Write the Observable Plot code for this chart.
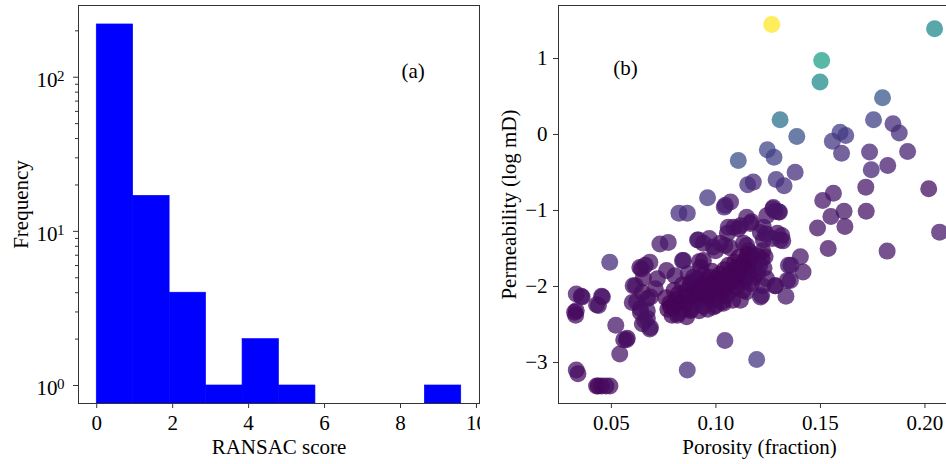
<!DOCTYPE html>
<html>
<head>
<meta charset="utf-8">
<script src="https://cdn.jsdelivr.net/npm/d3@7"></script>
<script src="https://cdn.jsdelivr.net/npm/@observablehq/plot@0.6"></script>
<style>
  html, body { margin: 0; padding: 0; background: white; }
  #wrap { position: relative; width: 946px; height: 464px; overflow: hidden; background: white; }
  #left, #right { position: absolute; top: 0; width: 480px; height: 464px; }
  #left { left: 0; }
  #right { left: 480px; }
  #wrap svg { max-width: none !important; width: 480px; height: 464px; display: block; }
  #wrap svg text { font-family: 'Liberation Serif', 'Times New Roman', serif !important; }
  #wrap svg g[aria-label$="tick label"],
  #wrap svg g[aria-label$="tick label"] text { font-size: 21px !important; fill: black; }
</style>
</head>
<body>
<div id="wrap"><div id="left"></div><div id="right"></div></div>
<script>
// ---- Panel (a): histogram of RANSAC scores ----
const binEdges = [0, 0.96, 1.92, 2.88, 3.84, 4.8, 5.76, 6.72, 7.68, 8.64, 9.6];
const binCounts = [220, 17, 4, 1, 2, 1, 0, 0, 0, 1];
const histXTicks = [0, 2, 4, 6, 8, 10];
const histYMajor = [1, 10, 100];
const histYExp = ["0", "1", "2"];
const histYMinor = [2,3,4,5,6,7,8,9,20,30,40,50,60,70,80,90,200];

// ---- Panel (b): porosity vs permeability, coloured by RANSAC score ----
const porosity = [
0.1267,0.2046,0.1506,0.1498,0.1797,0.1307,0.1387,0.1107,0.1246,0.1278,
0.1754,0.1847,0.1877,0.1594,0.1621,0.1557,0.1601,0.1735,0.1917,0.1743,
0.1822,0.1379,0.1288,0.1326,0.1152,0.1179,0.1717,0.2018,0.1562,0.1511,
0.0960,0.0823,0.0863,0.1040,0.1070,0.1272,0.1283,0.1304,0.1719,0.1613,
0.1550,0.1617,0.1486,0.2070,0.1537,0.1819,0.1315,0.1320,0.1404,0.1359,
0.1417,0.1356,0.1335,0.1283,0.1043,0.1195,0.0863,0.0332,0.0340,0.0429,
0.0437,0.0453,0.0474,0.0493,0.0540,0.0521,0.0572,0.0559,0.0492,0.0332,
0.0356,0.0332,0.0329,0.0324,0.0453,0.0429,0.0620,0.0604,0.0636,0.0644,
0.0684,0.0639,0.0660,0.0684,0.0732,0.0772,0.0840,0.0912,0.0968,0.0987,
0.1043,0.1059,0.1086,0.1107,0.1147,0.1170,0.1227,0.1240,0.1243,0.1227,
0.1147,0.1170,0.1163,0.1235,0.1224,0.1147,0.1219,0.1243,0.0922,0.0927,
0.0867,0.0764,0.0804,0.0360,0.0457,0.0438,0.0615,0.0648,0.0600,0.0639,
0.0672,0.0687,0.0648,0.0576,0.0710,0.0672,0.0720,0.1045,0.1275,0.1300,
0.0845,0.0916,0.0940,0.1055,0.1117,0.1165,0.1213,0.1270,0.1308,0.1294,
0.1347,0.1342,0.1285,0.1213,0.1222,0.0662,0.0653,0.0687,0.0672,0.0816,
0.0783,0.0878,0.0988,0.1036,0.1117,0.0983,0.0878,0.0893,0.0940,0.0998,
0.1022,0.1069,0.1132,0.1156,
0.076,0.077,0.078,0.079,0.080,0.080,0.081,0.082,0.082,0.083,
0.084,0.084,0.085,0.086,0.086,0.087,0.088,0.088,0.089,0.090,
0.090,0.091,0.091,0.092,0.092,0.093,0.093,0.094,0.094,0.095,
0.095,0.096,0.096,0.097,0.097,0.098,0.098,0.099,0.099,0.100,
0.100,0.101,0.101,0.102,0.102,0.103,0.103,0.104,0.104,0.105,
0.105,0.106,0.106,0.107,0.107,0.108,0.108,0.109,0.109,0.110,
0.110,0.111,0.111,0.112,0.112,0.113,0.113,0.114,0.114,0.115,
0.115,0.116,0.116,0.117,0.117,0.118,0.118,0.119,0.120,0.120,
0.121,0.122,0.123
];
const permeability = [
1.447,1.39,0.974,0.689,0.482,0.193,-0.026,-0.342,-0.20,-0.30,
0.193,0.14,0.018,0.03,-0.013,-0.088,-0.246,-0.232,-0.224,-0.465,
-0.408,-0.496,-0.592,-0.675,-0.662,-0.627,-0.693,-0.715,-0.772,-0.868,
-0.833,-1.035,-1.035,-0.956,-0.890,-0.978,-1.01,-1.02,-1.01,-1.01,
-1.08,-1.21,-1.23,-1.285,-1.50,-1.535,-1.33,-1.40,-1.61,-1.72,
-1.81,-1.92,-2.13,-1.99,-2.71,-2.96,-3.10,-3.10,-3.15,-3.31,
-3.31,-3.31,-3.31,-3.31,-2.89,-2.51,-2.70,-2.70,-1.68,-2.10,
-2.13,-2.32,-2.38,-2.34,-2.13,-2.24,-2.20,-1.99,-1.75,-1.77,
-1.68,-2.34,-2.45,-2.56,-1.44,-1.42,-1.66,-1.39,-1.37,-1.48,
-1.46,-1.22,-1.22,-1.24,-1.09,-1.15,-1.22,-1.31,-1.07,-1.39,
-1.46,-1.57,-1.75,-1.61,-1.53,-2.07,-2.12,-1.90,-1.67,-1.75,
-1.83,-1.79,-1.86,-2.14,-2.14,-2.25,-1.99,-2.08,-2.21,-2.29,
-2.42,-2.54,-2.49,-2.68,-2.03,-2.16,-1.90,-0.93,-0.96,-1.02,
-1.66,-1.39,-1.43,-1.30,-1.20,-1.17,-1.29,-1.37,-1.39,-1.30,
-1.72,-1.92,-1.99,-2.14,-1.99,-1.72,-1.89,-2.14,-2.32,-2.38,
-2.27,-2.32,-2.27,-2.22,-2.18,-2.14,-1.96,-1.88,-1.66,-1.53,
-1.43,-1.49,-1.43,-1.53,
-2.15,-2.30,-2.22,-2.38,-2.05,-2.28,-2.17,-2.35,-2.10,-2.24,
-1.98,-2.31,-2.15,-2.40,-2.06,-2.22,-1.95,-2.30,-2.12,-2.02,
-2.25,-1.90,-2.18,-2.08,-2.32,-1.98,-2.15,-1.85,-2.26,-2.05,
-1.95,-2.12,-2.30,-1.88,-2.02,-2.18,-1.80,-1.96,-2.08,-2.25,
-1.90,-2.00,-2.14,-1.84,-1.95,-2.06,-2.20,-1.78,-1.90,-2.00,
-2.12,-1.85,-1.72,-1.95,-2.05,-1.80,-2.18,-1.68,-1.90,-1.76,
-2.00,-1.85,-1.62,-1.94,-1.72,-1.82,-2.05,-1.66,-1.90,-1.76,
-1.58,-1.85,-1.70,-1.96,-1.62,-1.78,-1.88,-1.68,-1.60,-1.82,
-1.72,-1.64,-1.76
];
const ransacScore = [
9.6,4.5,5.5,4.6,2.6,3.5,2.4,2.3,2.0,1.8,
1.8,1.2,1.2,1.8,1.6,1.5,1.3,1.0,0.9,1.0,
0.8,1.3,1.4,1.3,1.3,1.1,0.6,0.4,0.6,0.6,
1.5,1.3,1.2,0.8,0.7,0.5,0.4,0.6,0.5,0.6,
0.5,0.5,0.5,0.7,0.5,0.6,0.5,0.4,0.6,0.6,
0.5,0.6,0.6,0.5,0.9,1.5,1.2,0.5,0.3,0.2,
0.1,0.2,0.2,0.3,0.6,0.6,0.4,0.3,1.2,0.6,
0.5,0.3,0.4,0.2,0.5,0.5,0.5,0.5,0.3,0.2,
0.6,0.3,0.4,0.5,0.7,0.7,0.6,0.7,0.6,0.5,
0.4,0.5,0.4,0.3,0.6,0.4,0.4,0.4,0.5,0.4,
0.3,0.3,0.3,0.3,0.3,0.5,0.5,0.4,0.3,0.2,
0.5,0.4,0.4,0.4,0.5,0.4,0.4,0.3,0.4,0.3,
0.4,0.5,0.4,0.3,0.3,0.3,0.4,0.7,0.5,0.5,
0.5,0.6,0.4,0.4,0.3,0.4,0.4,0.5,0.5,0.4,
0.5,0.5,0.4,0.5,0.4,0.3,0.3,0.3,0.4,0.3,
0.2,0.3,0.4,0.3,0.4,0.2,0.2,0.3,0.2,0.3,
0.4,0.3,0.3,0.3,
0.2,0.1,0.1,0.2,0.2,0.1,0.1,0.2,0.1,0.1,
0.2,0.1,0.1,0.3,0.1,0.1,0.2,0.1,0.1,0.1,
0.2,0.2,0.1,0.1,0.3,0.1,0.1,0.2,0.2,0.1,
0.1,0.1,0.3,0.1,0.1,0.1,0.2,0.1,0.1,0.2,
0.1,0.1,0.1,0.1,0.1,0.1,0.2,0.1,0.1,0.1,
0.1,0.1,0.1,0.1,0.1,0.1,0.2,0.1,0.1,0.1,
0.1,0.1,0.1,0.1,0.1,0.1,0.2,0.1,0.1,0.1,
0.1,0.1,0.1,0.2,0.1,0.1,0.2,0.1,0.2,0.2,
0.2,0.2,0.3
];
const scatXTicks = [0.05, 0.10, 0.15, 0.20];
const scatYTicks = [-3, -2, -1, 0, 1];

const FONT = "'Liberation Serif', 'Times New Roman', serif";
const FS = 21;
const AX = "#333";

const bins = binCounts.map((c, i) => ({x1: binEdges[i], x2: binEdges[i + 1], count: c})).filter(d => d.count > 0);
const yMin = 0.764, yMax = 292;

const left = Plot.plot({
  width: 480, height: 464,
  marginLeft: 78, marginRight: 1, marginTop: 5, marginBottom: 61,
  style: {fontFamily: FONT, fontSize: FS + "px", color: "black", background: "white"},
  x: {domain: [-0.48, 10.08]},
  y: {type: "log", domain: [yMin, yMax]},
  marks: [
    Plot.rectY(bins, {x1: "x1", x2: "x2", y1: () => yMin, y2: "count", fill: "#0000ff", stroke: "#0000ff", strokeWidth: 0.6}),
    Plot.axisX({ticks: histXTicks, tickSize: 5, tickPadding: 7, stroke: AX, fill: "black", label: null, tickFormat: d => String(d), fontFamily: FONT, fontSize: FS}),
    Plot.axisY({ticks: histYMinor, tickSize: 3, stroke: AX, label: null, tickFormat: () => ""}),
    Plot.axisY({ticks: histYMajor, tickSize: 5, stroke: AX, label: null, tickFormat: () => ""}),
    Plot.text(histYMajor, {y: d => d, frameAnchor: "left", text: () => "10", textAnchor: "end", lineAnchor: "middle", dx: -21, dy: 3, fill: "black", fontFamily: FONT, fontSize: FS}),
    Plot.text(histYMajor, {y: d => d, frameAnchor: "left", text: (d, i) => histYExp[i], textAnchor: "end", lineAnchor: "middle", dx: -14, dy: -1, fontSize: 15, fill: "black", fontFamily: FONT}),
    Plot.text(["Frequency"], {frameAnchor: "left", text: d => d, rotate: -90, textAnchor: "middle", lineAnchor: "middle", dx: -57.5, fill: "black", fontFamily: FONT, fontSize: FS}),
    Plot.text(["RANSAC score"], {frameAnchor: "bottom", text: d => d, textAnchor: "middle", lineAnchor: "middle", dy: 44, fill: "black", fontFamily: FONT, fontSize: FS}),
    Plot.text(["(a)"], {x: 8.33, y: 109, text: d => d, fill: "black", fontFamily: FONT, fontSize: FS}),
    Plot.frame({stroke: AX})
  ]
});
document.getElementById("left").append(left);

const pts = porosity.map((p, i) => ({porosity: p, perm: permeability[i], score: ransacScore[i]}));

const right = Plot.plot({
  width: 480, height: 464,
  marginLeft: 78, marginRight: 0, marginTop: 5, marginBottom: 61,
  style: {fontFamily: FONT, fontSize: FS + "px", color: "black", background: "white"},
  x: {domain: [0.0247, 0.217]},
  y: {domain: [-3.54, 1.697]},
  color: {type: "linear", scheme: "viridis", domain: [0, 9.6]},
  marks: [
    Plot.dot(pts, {x: "porosity", y: "perm", r: 8.5, fill: "score", fillOpacity: 0.75, stroke: null}),
    Plot.axisX({ticks: scatXTicks, tickSize: 5, tickPadding: 7, stroke: AX, fill: "black", label: null, tickFormat: d3.format(".2f"), fontFamily: FONT, fontSize: FS}),
    Plot.axisY({ticks: scatYTicks, tickSize: 5, tickPadding: 6, stroke: AX, fill: "black", label: null, tickFormat: d3.format("d"), fontFamily: FONT, fontSize: FS}),
    Plot.text(["Permeability (log mD)"], {frameAnchor: "left", text: d => d, rotate: -90, textAnchor: "middle", lineAnchor: "middle", dx: -49, fill: "black", fontFamily: FONT, fontSize: FS}),
    Plot.text(["Porosity (fraction)"], {frameAnchor: "bottom", text: d => d, textAnchor: "middle", lineAnchor: "middle", dy: 44, fill: "black", fontFamily: FONT, fontSize: FS}),
    Plot.text(["(b)"], {x: 0.0568, y: 0.87, text: d => d, fill: "black", fontFamily: FONT, fontSize: FS}),
    Plot.frame({stroke: AX})
  ]
});
document.getElementById("right").append(right);
</script>
</body>
</html>
